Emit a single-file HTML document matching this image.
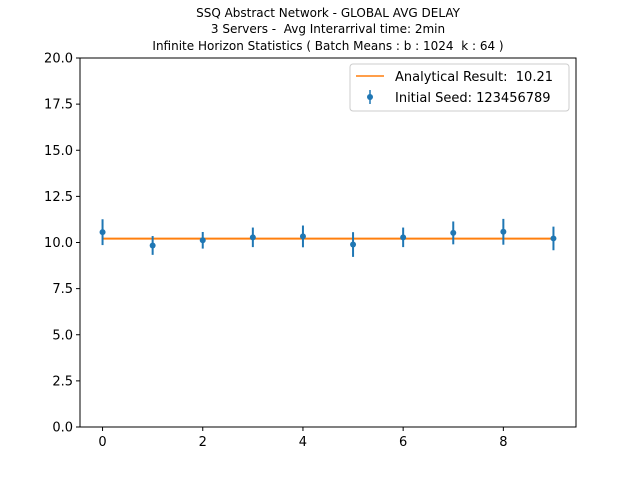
<!DOCTYPE html>
<html><head><meta charset="utf-8"><style>
body{margin:0;background:#fff}
svg{font-family:"DejaVu Sans","Liberation Sans",sans-serif}
text{white-space:pre}
</style></head><body>
<svg id="c" width="640" height="480" xmlns="http://www.w3.org/2000/svg">
<rect width="640" height="480" fill="#fff"/>
<g font-size="12" text-anchor="middle" fill="#000">
<text x="328" y="17">SSQ Abstract Network - GLOBAL AVG DELAY</text>
<text x="328" y="33">3 Servers -  Avg Interarrival time: 2min</text>
<text x="328" y="50">Infinite Horizon Statistics ( Batch Means : b : 1024  k : 64 )</text>
</g>
<g id="plot"></g>
<g>
<rect x="350" y="64" width="219" height="47" rx="3" fill="#fff" stroke="#ccc" stroke-width="1"/>
<line x1="356" y1="76" x2="384" y2="76" stroke="#ff7f0e" stroke-width="1.5"/>
<text x="395" y="81" font-size="13">Analytical Result:  10.21</text>
<line x1="370" y1="90" x2="370" y2="104" stroke="#1f77b4" stroke-width="1.5"/>
<circle cx="370" cy="97" r="3" fill="#1f77b4"/>
<text x="395" y="102" font-size="13">Initial Seed: 123456789</text>
</g>
</svg>
<script>
const xValues=[0,1,2,3,4,5,6,7,8,9];
const yValues=[10.56,9.84,10.12,10.28,10.33,9.89,10.28,10.52,10.58,10.22];
const yErrors=[0.70,0.51,0.45,0.53,0.59,0.67,0.53,0.62,0.70,0.64];
const analytical=10.21;
const xTicks=[0,2,4,6,8];
const yTicks=[0,2.5,5,7.5,10,12.5,15,17.5,20];
const L=80,R=576,T=58,B=427,xmin=-0.45,xmax=9.45,ymin=0,ymax=20;
const sx=v=>L+(v-xmin)/(xmax-xmin)*(R-L);
const sy=v=>B-(v-ymin)/(ymax-ymin)*(B-T);
const NS="http://www.w3.org/2000/svg";
const g=document.getElementById('plot');
function mk(t,a){const e=document.createElementNS(NS,t);for(const k in a)e.setAttribute(k,a[k]);g.appendChild(e);return e;}
yTicks.forEach(v=>{
 const l=mk('line',{x1:L-4,x2:L,y1:sy(v),y2:sy(v),stroke:'#000'});
 
 
 const t=mk('text',{x:L-7,y:sy(v)+4.5,'font-size':13,'text-anchor':'end'});
 t.textContent=v.toFixed(1);
 
 
});
xTicks.forEach(v=>{
 const l=mk('line',{x1:sx(v),x2:sx(v),y1:B,y2:B+4,stroke:'#000'});
 
 
 const t=mk('text',{x:sx(v),y:B+19,'font-size':13,'text-anchor':'middle'});
 t.textContent=v;
 
 
});
const al=mk('line',{x1:sx(xValues[0]),x2:sx(xValues[xValues.length-1]),y1:sy(analytical),y2:sy(analytical),stroke:'#ff7f0e','stroke-width':2});


xValues.forEach((x,i)=>{
 const e=mk('line',{x1:sx(x),x2:sx(x),y1:sy(yValues[i]-yErrors[i]),y2:sy(yValues[i]+yErrors[i]),stroke:'#1f77b4','stroke-width':2});
 
 
 const c=mk('circle',{cx:sx(x),cy:sy(yValues[i]),r:3,fill:'#1f77b4'});
 
 
});
const f=mk('rect',{x:L,y:T,width:R-L,height:B-T,fill:'none',stroke:'#000','stroke-width':1});


</script>
</body></html>
